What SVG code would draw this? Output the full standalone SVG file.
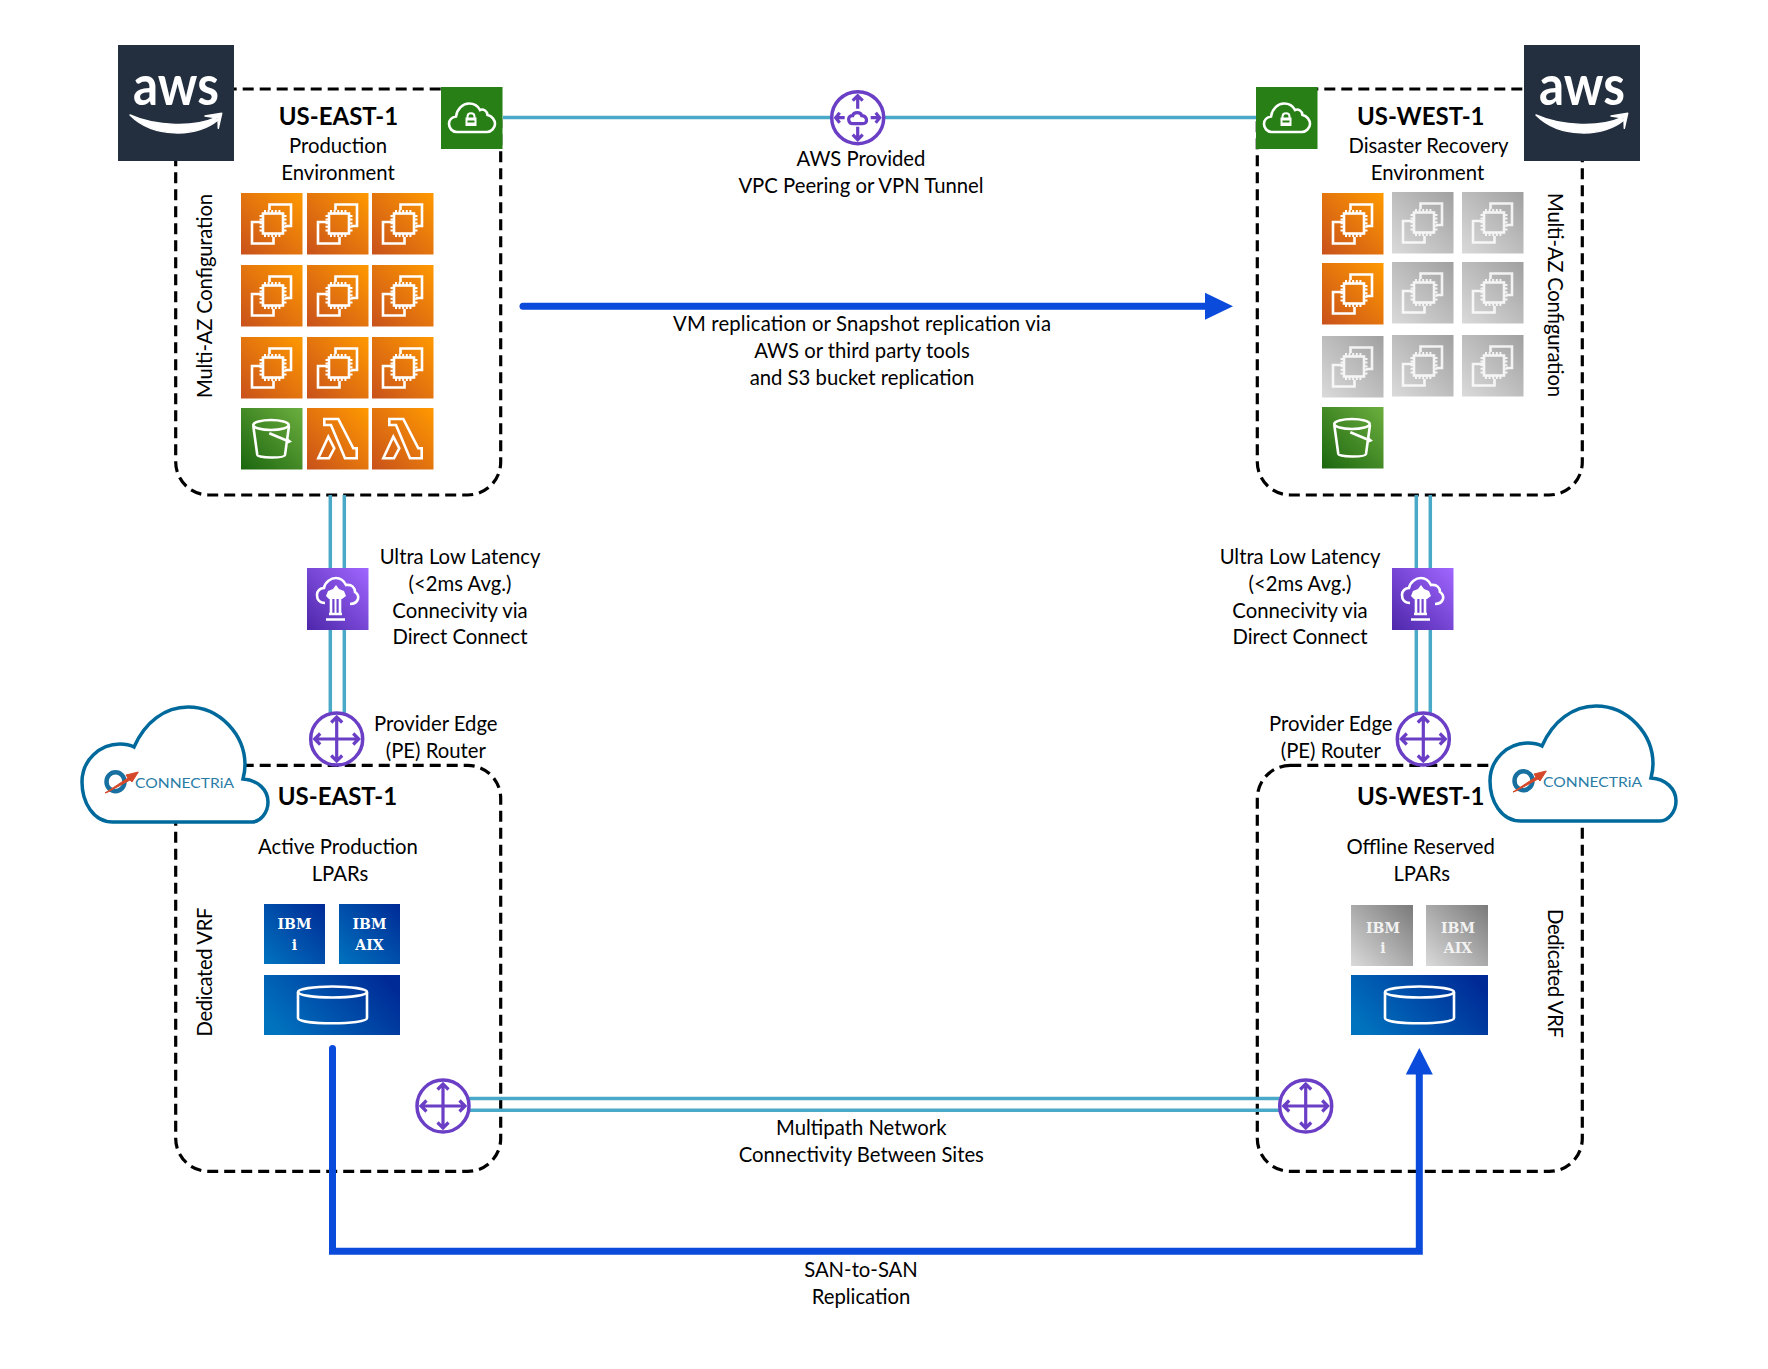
<svg xmlns="http://www.w3.org/2000/svg" width="1768" height="1369" viewBox="0 0 1768 1369">
<style>
text{font-family:"Lato","Liberation Sans",sans-serif;font-size:20.3px;fill:#000;text-anchor:middle}
.h{font-weight:700;font-size:24px}
.ibm{font-family:"DejaVu Serif","Liberation Serif",serif;font-size:14px;font-weight:700;fill:#fff}
.ibmg{font-family:"DejaVu Serif","Liberation Serif",serif;font-size:14px;font-weight:700;fill:#f2f2f2}
.box{fill:none;stroke:#000;stroke-width:3.2;stroke-dasharray:11 6}
.teal{fill:none;stroke:#4BA9C8;stroke-width:3.5}
.blue{fill:none;stroke:#0A4BDC;stroke-width:7}
.bluehead{fill:#0A4BDC}
.ico{fill:none;stroke:#fff;stroke-width:2.6}
.pin{fill:none;stroke:#fff;stroke-width:2}
.r{fill:#fff;stroke:#6A3FC6;stroke-width:3.5}
.ra{fill:none;stroke:#6A3FC6;stroke-width:3.2}
.cloud{fill:#fff;stroke:#00699C;stroke-width:3.5}
.logo{font-size:13.5px;fill:#2A7CA6;text-anchor:start}
.awst{font-size:56px;fill:#fff;font-weight:700}
</style>
<defs>
<linearGradient id="gO" x1="0" y1="1" x2="1" y2="0"><stop offset="0" stop-color="#C8511B"/><stop offset="1" stop-color="#FF9900"/></linearGradient>
<linearGradient id="gG" x1="0" y1="1" x2="1" y2="0"><stop offset="0" stop-color="#1B660F"/><stop offset="1" stop-color="#6CAE3E"/></linearGradient>
<linearGradient id="gP" x1="0" y1="1" x2="1" y2="0"><stop offset="0" stop-color="#4D27AA"/><stop offset="1" stop-color="#A166FF"/></linearGradient>
<linearGradient id="gS" x1="0" y1="1" x2="1" y2="0"><stop offset="0" stop-color="#DADADA"/><stop offset="1" stop-color="#A0A0A0"/></linearGradient>
<linearGradient id="gB" x1="0" y1="1" x2="1" y2="0"><stop offset="0" stop-color="#0073BE"/><stop offset="1" stop-color="#002A96"/></linearGradient>
<linearGradient id="gBw" x1="0" y1="0.7" x2="1" y2="0.3"><stop offset="0" stop-color="#0073BE"/><stop offset="1" stop-color="#002A96"/></linearGradient>
<linearGradient id="gI" x1="0" y1="1" x2="1" y2="0"><stop offset="0" stop-color="#DADADA"/><stop offset="1" stop-color="#7A7A7A"/></linearGradient>
<g id="ec2i">
<path class="ico" d="M28.500 17V11.500H50V33H44"/>
<path class="ico" d="M21 29H11V50.500H32.500V44"/>
<rect x="22" y="20.500" width="20" height="20" class="ico"/>
<path class="pin" d="M24 17V20M27.600 17V20M31.200 17V20M34.800 17V20M38.400 17V20M24 41V44M27.600 41V44M31.200 41V44M34.800 41V44M38.400 41V44M18.500 23H21.500M18.500 26.600H21.500M18.500 30.200H21.500M18.500 33.800H21.500M18.500 37.400H21.500M42.500 23H45.500M42.500 26.600H45.500M42.500 30.200H45.500M42.500 33.800H45.500M42.500 37.400H45.500"/>
</g>
<g id="ec2"><rect width="61.500" height="61.500" fill="url(#gO)"/><use href="#ec2i"/></g>
<g id="ec2g"><rect width="61.500" height="61.500" fill="url(#gS)"/><use href="#ec2i" opacity=".85"/></g>
<g id="s3"><rect width="61.500" height="61.500" fill="url(#gG)"/>
<ellipse cx="30" cy="17" rx="17.700" ry="5" class="ico"/>
<path class="ico" d="M12.300 18L16.300 47C17 50 43 50.500 44 47L48 18"/>
<path class="ico" d="M28.300 25.300L48 33.500"/><path d="M47 30.500L51 33.800L47 35.500Z" fill="#fff"/>
</g>
<g id="lam"><rect width="61.500" height="61.500" fill="url(#gO)"/>
<path class="ico" d="M17.300 11H31.300L46.300 40.300H49.700V50.300H38L24 17H17.300Z"/>
<path class="ico" d="M21.300 28.700L27.300 40.300L22 50.300H11.300Z"/>
</g>
<g id="vpn"><rect width="61.500" height="62" fill="#277F16"/>
<path class="ico" d="M16 45C11 45 8 41 8 37C8 33 11 30 15 29.500C16 22 22 16.500 28 16.500C33 16.500 37 19 39 23C42 21.500 46 23.500 46.500 28C51 29 54 33 54 37C54 41 50 45 46 45Z"/>
<rect x="24.500" y="30.500" width="11" height="8.500" fill="#fff"/><rect x="26.500" y="33.500" width="7" height="2" fill="#277F16"/>
<path class="pin" d="M26.500 31V29.500C26.500 25 33.500 25 33.500 29.500V31"/>
</g>
<g id="dc"><rect width="61.500" height="62" fill="url(#gP)"/>
<path class="ico" d="M18 35C12 35 10 31 10 27C10 23 13 20 17 20C18 14 24 10 29 10C34 10 37 13 39 17C45 16 48 20 48 24C51 26 51.500 29 51 31C50 34 47 36 43 36"/>
<path class="ico" d="M19 51.500H38M22 46H35M24 46V31M33 46V31"/>
<path d="M29 17L32 21L37 23L39 28L35 31H22L19 28L21 23L26 21Z" fill="#fff"/>
<path d="M28.500 31V46" stroke="#fff" stroke-width="2"/>
</g>
<g id="rt"><circle r="26" class="r"/>
<path class="ra" d="M0-22V22M-22 0H22M-5.500-16.500L0-22L5.500-16.500M-5.500 16.500L0 22L5.500 16.500M-16.500-5.500L-22 0L-16.500 5.500M16.500-5.500L22 0L16.500 5.500"/>
</g>
<g id="awsl"><rect width="116" height="116" fill="#232F3E"/>
<text x="58" y="60" class="awst" textLength="86" lengthAdjust="spacingAndGlyphs">aws</text>
<path d="M12 70C35 93 78 93 100 75L97 73C78 82 38 82 12 70Z" fill="#fff" stroke="#fff" stroke-width="1.500" stroke-linejoin="round"/>
<path d="M87 71L103.700 68.300L100.300 83.300L100 73Z" fill="#fff" stroke="#fff" stroke-width="1.500" stroke-linejoin="round"/>
</g>
<g id="conn">
<path class="cloud" d="M113 822C93 822 82 802 82 782C82 760 100 744 120 744C125 744 130 745 134 747C145 722 165 707 188 707C220 707 245 735 245 765C245 770 244 775 243 779C258 780 268 790 268 802C268 813 260 822 252 822Z"/>
<ellipse cx="115.500" cy="781.700" rx="9" ry="9.500" fill="none" stroke="#17709F" stroke-width="4.500"/>
<path d="M105 793L128 778L126 775L138.300 772L132 782L130 780L108 792Z" fill="#D5492A" stroke="#D5492A"/>
<text x="135" y="788" class="logo" textLength="99" lengthAdjust="spacingAndGlyphs">CONNECTRiA</text>
</g>
<g id="stor"><ellipse cx="0" cy="0" rx="34.500" ry="5.500" class="ico"/><path class="ico" d="M-34.500 0V26C-34.500 33 34.500 33 34.500 26V0"/></g>
</defs>
<rect width="1768" height="1369" fill="#fff"/>

<g id="zones">
<rect id="zone-aws-east" class="box" x="175.700" y="89" width="325" height="406" rx="33"/>
<rect id="zone-aws-west" class="box" x="1257.300" y="89" width="325" height="406" rx="33"/>
<rect id="zone-dc-east" class="box" x="175.700" y="765.400" width="325" height="406" rx="33"/>
<rect id="zone-dc-west" class="box" x="1257.300" y="765.400" width="325" height="406" rx="33"/>
</g>

<g id="connectors">
<path class="teal" d="M503 117.500H1256"/>
<path class="teal" d="M330.300 495V713M344.300 495V713"/>
<path class="teal" d="M1416.300 495V713M1430.300 495V713"/>
<path class="teal" d="M469 1098.400H1280M469 1110.300H1280"/>
<path class="blue" d="M523 306.300H1206" stroke-linecap="round"/>
<path class="bluehead" d="M1205 292.800L1233 306.300L1205 319.800Z"/>
<path class="blue" d="M332.500 1048.500V1251.300H1419.300V1072" stroke-linecap="round"/>
<path class="bluehead" d="M1405.800 1074.600L1419.300 1048L1432.800 1074.600Z"/>
</g>

<g id="aws-east"><use href="#awsl" x="118" y="45"/>
<text x="338.500" y="125" class="h">US-EAST-1</text><text x="338" y="152.700">Production</text><text x="338" y="180">Environment</text>
<text transform="translate(211.700 296) rotate(-90)" textLength="204">Multi-AZ Configuration</text></g>
<g id="vpn-east"><use href="#vpn" x="441" y="87"/></g>
<g id="compute-east">
<use href="#ec2" x="241" y="193"/><use href="#ec2" x="307" y="193"/><use href="#ec2" x="372" y="193"/>
<use href="#ec2" x="241" y="265"/><use href="#ec2" x="307" y="265"/><use href="#ec2" x="372" y="265"/>
<use href="#ec2" x="241" y="337"/><use href="#ec2" x="307" y="337"/><use href="#ec2" x="372" y="337"/>
<use href="#s3" x="241" y="408"/><use href="#lam" x="307" y="408"/><use href="#lam" x="372" y="408"/>
</g>

<g id="aws-west"><use href="#awsl" x="1524" y="45"/>
<text x="1420.800" y="125" class="h">US-WEST-1</text><text x="1428.500" y="152.700">Disaster Recovery</text><text x="1427.500" y="180">Environment</text>
<text transform="translate(1548 295) rotate(90)" textLength="204">Multi-AZ Configuration</text></g>
<g id="vpn-west"><use href="#vpn" x="1256" y="87"/></g>
<g id="compute-west">
<use href="#ec2" x="1322" y="193"/><use href="#ec2g" x="1392" y="192"/><use href="#ec2g" x="1462" y="192"/>
<use href="#ec2" x="1322" y="263"/><use href="#ec2g" x="1392" y="262"/><use href="#ec2g" x="1462" y="262"/>
<use href="#ec2g" x="1322" y="336"/><use href="#ec2g" x="1392" y="335"/><use href="#ec2g" x="1462" y="335"/>
<use href="#s3" x="1322" y="407"/>
</g>

<g id="peering"><g transform="translate(857.700 117.700)"><circle r="26" class="r"/>
<path class="ra" d="M0-22V-9M-5-17L0-22L5-17M0 22V9M-5 17L0 22L5 17M-22 0H-13M-18-5L-22 0L-18 5M22 0H13M18-5L22 0L18 5"/>
<path class="ra" d="M-5 6C-9 6-10 1-8 -1C-7-2-6-2-5-2C-4-6 3-6 4-2C8-2 10 2 8 5C7 6 6 6 5 6Z"/></g>
<text x="861" y="166">AWS Provided</text><text x="861" y="193">VPC Peering or VPN Tunnel</text></g>
<g id="label-vm"><text x="862" y="331" textLength="378">VM replication or Snapshot replication via</text><text x="862" y="358">AWS or third party tools</text><text x="862" y="385">and S3 bucket replication</text></g>

<g id="dx-east"><use href="#dc" x="307" y="568"/><text x="460" y="564">Ultra Low Latency</text><text x="460" y="591">(&lt;2ms Avg.)</text><text x="460" y="618">Connecivity via</text><text x="460" y="644">Direct Connect</text></g>
<g id="dx-west"><use href="#dc" x="1392" y="568"/><text x="1300" y="564">Ultra Low Latency</text><text x="1300" y="591">(&lt;2ms Avg.)</text><text x="1300" y="618">Connecivity via</text><text x="1300" y="644">Direct Connect</text></g>

<g id="pe-east"><use href="#rt" x="336.700" y="739"/><text x="435.800" y="731">Provider Edge</text><text x="435.800" y="757.500">(PE) Router</text></g>
<g id="pe-west"><use href="#rt" x="1423.300" y="739"/><text x="1330.800" y="731">Provider Edge</text><text x="1330.800" y="757.500">(PE) Router</text></g>

<g id="dc-east"><use href="#conn"/>
<text x="337.500" y="805" class="h">US-EAST-1</text><text x="338" y="854">Active Production</text><text x="340" y="880.800">LPARs</text>
<text transform="translate(211.700 972) rotate(-90)" textLength="129">Dedicated VRF</text></g>
<g id="ibm-east">
<rect x="264" y="904" width="61" height="60" fill="url(#gB)"/><text class="ibm" x="294.500" y="929">IBM</text><text class="ibm" x="294.500" y="950">i</text>
<rect x="339" y="904" width="61" height="60" fill="url(#gB)"/><text class="ibm" x="369.500" y="929">IBM</text><text class="ibm" x="369.500" y="950">AIX</text>
<rect x="264" y="975" width="136" height="60" fill="url(#gBw)"/><use href="#stor" x="332.500" y="992"/>
</g>
<g id="dc-west"><use href="#conn" transform="translate(1408 -1)"/>
<text x="1420.800" y="805" class="h">US-WEST-1</text><text x="1420.700" y="854">Offline Reserved</text><text x="1421.700" y="880.800">LPARs</text>
<text transform="translate(1548 973.500) rotate(90)" textLength="129">Dedicated VRF</text></g>
<g id="ibm-west">
<rect x="1351" y="905" width="62" height="61" fill="url(#gI)"/><text class="ibmg" x="1383" y="933">IBM</text><text class="ibmg" x="1383" y="953">i</text>
<rect x="1426" y="905" width="62" height="61" fill="url(#gI)"/><text class="ibmg" x="1458" y="933">IBM</text><text class="ibmg" x="1458" y="953">AIX</text>
<rect x="1351" y="975" width="137" height="60" fill="url(#gBw)"/><use href="#stor" x="1419.500" y="992"/>
</g>

<g id="router-east"><use href="#rt" x="443" y="1106"/></g>
<g id="router-west"><use href="#rt" x="1305.700" y="1106"/></g>
<g id="label-multipath"><text x="861.300" y="1135">Multipath Network</text><text x="861.300" y="1161.700">Connectivity Between Sites</text></g>
<g id="label-san"><text x="861" y="1277">SAN-to-SAN</text><text x="861" y="1303.500">Replication</text></g>
</svg>
